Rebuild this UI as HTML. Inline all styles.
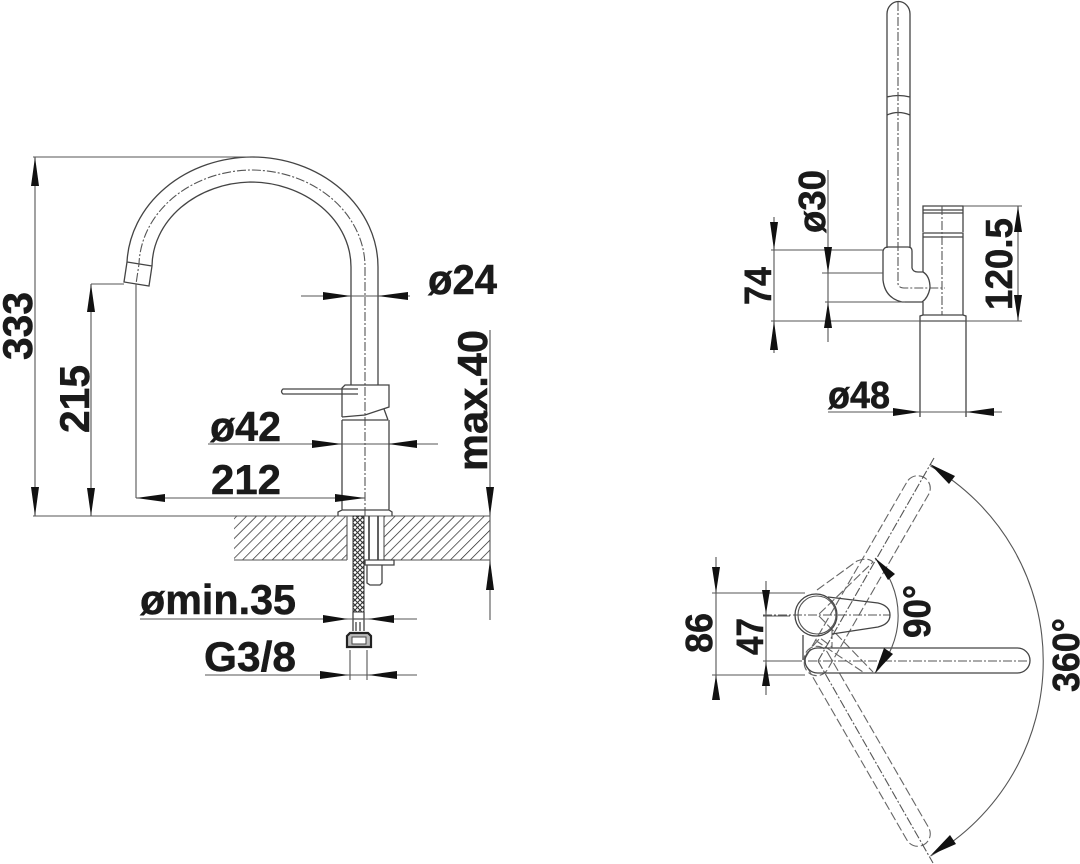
<!DOCTYPE html>
<html><head><meta charset="utf-8"><style>
html,body{margin:0;padding:0;background:#fff}
svg{display:block;filter:blur(0.35px)}
text{font-family:"Liberation Sans",sans-serif;font-weight:bold;fill:#1a1a1a;stroke:#1a1a1a;stroke-width:.5}
.t{font-size:42px}.s{font-size:38px}
.l{fill:none;stroke:#444;stroke-width:1.3}
.d{fill:none;stroke:#555;stroke-width:1.1}
.c{fill:none;stroke:#555;stroke-width:1.1;stroke-dasharray:9 2 2 2}
.h{fill:none;stroke:#666;stroke-width:1.1;stroke-dasharray:9 3}
.a{fill:#111;stroke:none}
</style></head><body>
<svg width="1080" height="864" viewBox="0 0 1080 864" xmlns="http://www.w3.org/2000/svg">
<defs>
<pattern id="hatch" width="7" height="7" patternUnits="userSpaceOnUse" patternTransform="rotate(45)"><line x1="0" y1="0" x2="0" y2="7" stroke="#222" stroke-width="1.4"/></pattern>
<pattern id="braid" width="5" height="5" patternUnits="userSpaceOnUse"><path d="M0 0L5 5M5 0L0 5" stroke="#333" stroke-width="1.1"/></pattern>
</defs>

<!-- LEFT VIEW: spout -->
<path class="l" d="M378 385V267A126 110 0 0 0 252 157A126 110 0 0 0 127 262L124 282L149 286L152 266A101 85 0 0 1 250 182A101 85 0 0 1 351 267V385M127 262L152 266"/>
<path class="c" d="M365 516V267A114 97 0 0 0 250 170A114 97 0 0 0 139 264L136 284"/>
<!-- body -->
<path class="l" d="M342 417V388L345 385H389V407L365 415L342 417M384 409L388 420M342 420H388M342 420V510M389 420V510M338 516V512L342 510H389L392 512V516"/>
<path class="l" d="M358 389H283Q280 391.500 283 394H358"/>
<!-- worktop -->
<rect x="234" y="516" width="113" height="44" fill="url(#hatch)"/>
<rect x="384" y="516" width="106" height="44" fill="url(#hatch)"/>
<path class="d" d="M33 516H490M234 560H347M384 560H490M347 516V560M384 516V560"/>
<rect x="353" y="516" width="11" height="96" fill="url(#braid)" stroke="#333"/>
<path class="l" d="M353 612V631M364 612V631M353 619H364M356 622V631M360 622V631"/>
<path class="l" style="stroke-width:1.7" d="M369 516V560M378 516V560"/>
<path class="l" d="M365 560H394V565H365ZM367 565V583L370 585H380L382 583V565"/>
<path d="M347 636L350 633H368L371 636V647H347Z" fill="#bbb" stroke="#222" stroke-width="2.2"/>
<rect x="352" y="637" width="14" height="7" fill="#fff" stroke="#444"/>

<!-- LEFT dimensions -->
<path class="d" d="M33 157H250M35 157V516"/>
<path class="d" d="M91 284H124M91 284V516M136 284V498M136 498H365M208 444H438M301 296H410M140 619H417M205 675H417M350 650V680M367 650V680M490 330V620"/>
<polygon class="a" points="35,157 31,186 39,186"/><polygon class="a" points="35,516 31,487 39,487"/>
<polygon class="a" points="91,284 87,312 95,312"/><polygon class="a" points="91,516 87,488 95,488"/>
<polygon class="a" points="136,498 165,494 165,502"/><polygon class="a" points="365,498 335,494 335,502"/>
<polygon class="a" points="342,444 312,440 312,448"/><polygon class="a" points="388,444 417,440 417,448"/>
<polygon class="a" points="351,296 323,292 323,300"/><polygon class="a" points="378,296 408,292 408,300"/>
<polygon class="a" points="348,619 323,615 323,623"/><polygon class="a" points="368,619 394,615 394,623"/>
<polygon class="a" points="349,675 320,671 320,679"/><polygon class="a" points="368,675 397,671 397,679"/>
<polygon class="a" points="490,516 486,487 494,487"/><polygon class="a" points="490,560 486,590 494,590"/>

<!-- LEFT text -->
<text class="t" transform="translate(32,360) rotate(-90)" textLength="68" lengthAdjust="spacingAndGlyphs">333</text>
<text class="t" transform="translate(89,433) rotate(-90)" textLength="68" lengthAdjust="spacingAndGlyphs">215</text>
<text class="t" transform="translate(487,471) rotate(-90)" textLength="141" lengthAdjust="spacingAndGlyphs">max.40</text>
<text class="t" x="428" y="294" textLength="69" lengthAdjust="spacingAndGlyphs">ø24</text>
<text class="t" x="210" y="441" textLength="71" lengthAdjust="spacingAndGlyphs">ø42</text>
<text class="t" x="211" y="494" textLength="70" lengthAdjust="spacingAndGlyphs">212</text>
<text class="t" x="140" y="614" textLength="156" lengthAdjust="spacingAndGlyphs">ømin.35</text>
<text class="t" x="204" y="671" textLength="92" lengthAdjust="spacingAndGlyphs">G3/8</text>

<!-- TOP RIGHT VIEW -->
<path class="l" d="M887 248V14A11.500 12.500 0 0 1 910 14V248M887 97Q898 94 910 97M887 115Q898 110 910 115"/>
<path class="l" d="M883 251Q884 247 888 247H908Q912 247 912 251V268Q913 272 918 272H923Q930 276 930 288Q928 298 922 302H902Q885 298 883 280Z"/>
<path class="c" d="M898 2V284Q899 288 904 288H945"/>
<path class="l" d="M923 232V206H963V232M923 210H963M923 213H963M923 233H963V237H923ZM923 237V272M923 302V315M963 237V315"/>
<path class="c" d="M942 206V315"/>
<path class="l" d="M920 417V316L923 315H963L966 316V417M920 321H966"/>
<path class="d" d="M771 250H883M822 273H883M825 302H905M771 321H1022M963 206H1022M828 170V342M774 217V353M1018 206V321M828 412H1002"/>
<polygon class="a" points="828,273 824,247 832,247"/><polygon class="a" points="828,302 824,328 832,328"/>
<polygon class="a" points="774,250 770,222 778,222"/><polygon class="a" points="774,321 770,350 778,350"/>
<polygon class="a" points="1018,206 1014,232 1022,232"/><polygon class="a" points="1018,321 1014,295 1022,295"/>
<polygon class="a" points="920,412 893,408 893,416"/><polygon class="a" points="966,412 994,408 994,416"/>
<text class="s" transform="translate(825,233) rotate(-90)" textLength="63" lengthAdjust="spacingAndGlyphs">ø30</text>
<text class="s" transform="translate(771,305) rotate(-90)" textLength="38" lengthAdjust="spacingAndGlyphs">74</text>
<text class="s" transform="translate(1012,310) rotate(-90)" textLength="92" lengthAdjust="spacingAndGlyphs">120.5</text>
<text class="s" x="828" y="408" textLength="62" lengthAdjust="spacingAndGlyphs">ø48</text>

<!-- BOTTOM RIGHT VIEW -->
<g transform="rotate(-60 818 661)"><rect x="803" y="648.500" width="227" height="25" rx="12.500" class="h"/></g>
<g transform="rotate(60 818 661)"><rect x="803" y="648.500" width="227" height="25" rx="12.500" class="h"/></g>
<path class="h" d="M817 590L857 561Q868 557 873 562L818 615L873 672M815 640L863 672M813 646L820 638L832 647M832 630V648"/>
<path class="c" d="M818 661L934 458M818 661L933 863"/>
<rect x="805" y="648" width="225" height="25" rx="12.500" class="l"/>
<path class="c" d="M763 661H1028"/>
<path class="c" d="M763 615H890"/>
<circle cx="816" cy="615" r="21" class="l"/>
<circle cx="817" cy="615" r="19" class="d"/>
<path class="l" d="M828 597L878 603Q890 606 890 615Q890 624 878 627L832 634"/>
<path class="l" d="M803 635V660"/>
<path class="d" d="M712 593H805M712 675H805M763 616H790M763 661H800M716 557V700M766 581V695"/>
<polygon class="a" points="716,593 712,567 720,567"/><polygon class="a" points="716,675 712,700 720,700"/>
<polygon class="a" points="766,614 762,590 770,590"/><polygon class="a" points="766,662 762,686 770,686"/>
<path class="d" d="M930.500 466A225 225 0 0 1 930.500 856"/>
<polygon class="a" points="930,464 955,476 949,484"/><polygon class="a" points="931,855 950,835 956,844"/>
<path class="d" d="M875 558A83 83 0 0 1 875 673"/>
<polygon class="a" points="875,558 895,574 888,580"/><polygon class="a" points="875,673 884,648 893,654"/>
<text class="s" transform="translate(712,653) rotate(-90)" textLength="40" lengthAdjust="spacingAndGlyphs">86</text>
<text class="s" transform="translate(763,655) rotate(-90)" textLength="37" lengthAdjust="spacingAndGlyphs">47</text>
<text class="s" transform="translate(930,638) rotate(-90)" textLength="53" lengthAdjust="spacingAndGlyphs">90°</text>
<text class="s" transform="translate(1079,692) rotate(-90)" textLength="74" lengthAdjust="spacingAndGlyphs">360°</text>
</svg>
</body></html>
